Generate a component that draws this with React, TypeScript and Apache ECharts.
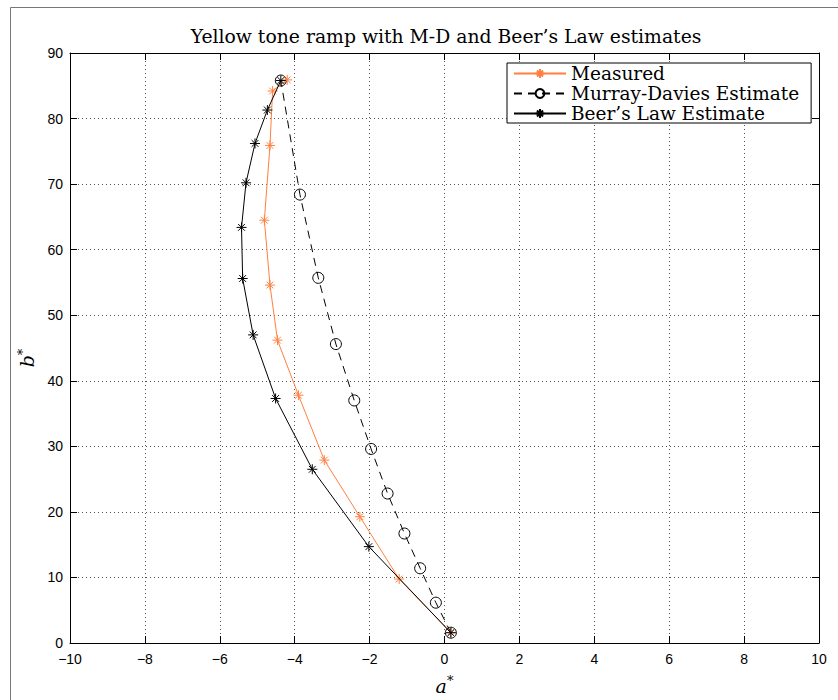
import React, { useEffect, useRef } from "react";
import * as echarts from "echarts";

// a*, b* coordinates along the yellow tone ramp
const measuredA = [0.17, -1.21, -2.26, -3.21, -3.9, -4.46, -4.66, -4.81, -4.66, -4.59, -4.2];
const measuredB = [1.57, 9.76, 19.26, 27.9, 37.8, 46.2, 54.6, 64.5, 75.9, 84.2, 85.9];

const mdA = [0.17, -0.23, -0.65, -1.07, -1.52, -1.96, -2.41, -2.9, -3.37, -3.86, -4.37];
const mdB = [1.57, 6.15, 11.4, 16.7, 22.8, 29.6, 37.0, 45.6, 55.7, 68.4, 85.8];

const beerA = [0.17, -2.02, -3.53, -4.51, -5.11, -5.39, -5.42, -5.3, -5.06, -4.73, -4.37];
const beerB = [1.57, 14.7, 26.5, 37.3, 47.0, 55.6, 63.4, 70.2, 76.2, 81.3, 85.8];

const seriesNames = ["Measured", "Murray-Davies Estimate", "Beer\u2019s Law Estimate"];
const xTicks = { min: -10, max: 10, interval: 2 };
const yTicks = { min: 0, max: 90, interval: 10 };

const ORANGE = "#ff8040";
const SERIF = "'DejaVu Serif', 'Liberation Serif', serif";
const SANS = "'Liberation Sans', Arial, sans-serif";
const ASTERISK = "path://M5,0L5,10M0,5L10,5M1.6,1.6L8.4,8.4M1.6,8.4L8.4,1.6";

const pairs = (xs: number[], ys: number[]) => xs.map((x, i) => [x, ys[i]]);
const minusFmt = (v: number) => String(v).replace("-", "\u2212");

const nameRich = {
  v: { fontFamily: SERIF, fontStyle: "italic", fontSize: 19, color: "#000" },
  s: { fontFamily: SERIF, fontSize: 13, color: "#000", verticalAlign: "top", padding: [0, 0, 10, 0] },
};

export default function App() {
  const ref = useRef<HTMLDivElement>(null);

  useEffect(() => {
    if (!ref.current) return;
    const chart = echarts.init(ref.current, null, { renderer: "svg" });

    const axisCommon = {
      axisLine: { show: true, onZero: false, lineStyle: { color: "#000", width: 1 } },
      axisTick: { show: true, inside: true, length: 7, lineStyle: { color: "#000" } },
    };
    const gridLine = { show: true, lineStyle: { color: "#555", type: [1, 3], width: 1 } };

    chart.setOption({
      animation: false,
      backgroundColor: "#fff",
      title: {
        text: "Yellow tone ramp with M-D and Beer\u2019s Law estimates",
        left: 441,
        textAlign: "center",
        top: 22,
        textStyle: { fontFamily: SERIF, fontSize: 18.8, fontWeight: "normal", color: "#000" },
      },
      grid: { left: 70, top: 53, right: 19, bottom: 54 },
      legend: {
        orient: "vertical",
        left: 507,
        top: 63,
        data: seriesNames,
        backgroundColor: "#fff",
        borderColor: "#000",
        borderWidth: 1,
        borderRadius: 0,
        padding: [1, 12, 0, 6],
        itemWidth: 52,
        itemHeight: 11,
        itemGap: 1,
        textStyle: { fontFamily: SERIF, fontSize: 18.5, color: "#000", lineHeight: 19 },
      },
      xAxis: [
        {
          type: "value",
          ...xTicks,
          position: "bottom",
          ...axisCommon,
          axisLabel: { formatter: minusFmt, fontFamily: SANS, fontSize: 14, color: "#000", margin: 9 },
          splitLine: gridLine,
          name: "{v|a}{s|*}",
          nameLocation: "middle",
          nameGap: 31,
          nameTextStyle: { rich: nameRich },
        },
        {
          type: "value",
          ...xTicks,
          position: "top",
          ...axisCommon,
          axisLabel: { show: false },
          splitLine: { show: false },
        },
      ],
      yAxis: [
        {
          type: "value",
          ...yTicks,
          position: "left",
          ...axisCommon,
          axisLabel: { fontFamily: SANS, fontSize: 14, color: "#000", margin: 7 },
          splitLine: gridLine,
          name: "{v|b}{s|*}",
          nameLocation: "middle",
          nameGap: 30,
          nameRotate: 90,
          nameTextStyle: { rich: nameRich, padding: [0, 20, 0, 0] },
        },
        {
          type: "value",
          ...yTicks,
          position: "right",
          ...axisCommon,
          axisLabel: { show: false },
          splitLine: { show: false },
        },
      ],
      series: [
        {
          name: seriesNames[0],
          type: "line",
          data: pairs(measuredA, measuredB),
          symbol: ASTERISK,
          symbolSize: 10,
          showAllSymbol: true,
          lineStyle: { color: ORANGE, width: 1 },
          itemStyle: { color: ORANGE, borderColor: ORANGE, borderWidth: 1 },
          z: 3,
        },
        {
          name: seriesNames[1],
          type: "line",
          data: pairs(mdA, mdB),
          symbol: "circle",
          symbolSize: 11,
          showAllSymbol: true,
          lineStyle: { color: "#000", width: 1, type: [8, 6] },
          itemStyle: { color: "transparent", borderColor: "#000", borderWidth: 1 },
          z: 2,
        },
        {
          name: seriesNames[2],
          type: "line",
          data: pairs(beerA, beerB),
          symbol: ASTERISK,
          symbolSize: 10,
          showAllSymbol: true,
          lineStyle: { color: "#000", width: 1 },
          itemStyle: { color: "#000", borderColor: "#000", borderWidth: 1 },
          z: 4,
        },
      ],
      graphic: [
        {
          type: "rect",
          left: 8,
          top: 5,
          shape: { width: 845, height: 710 },
          style: { fill: "none", stroke: "#777", lineWidth: 1 },
          silent: true,
        },
      ],
    });

    return () => chart.dispose();
  }, []);

  return (
    <div
      ref={ref}
      style={{ position: "fixed", left: 0, top: 0, width: 838, height: 700 }}
    />
  );
}
